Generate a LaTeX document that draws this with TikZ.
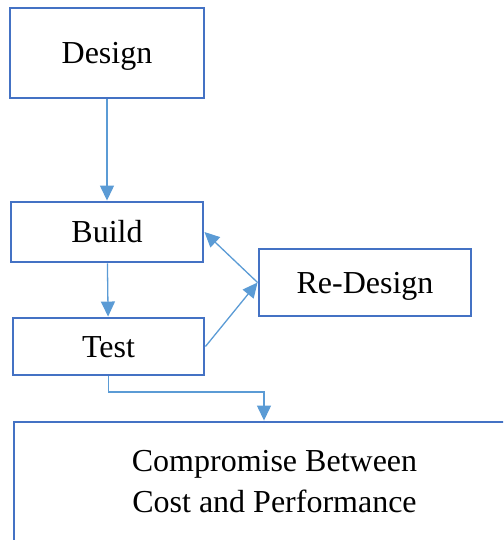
\documentclass[tikz,border=0pt]{standalone}
\usepackage{fontspec}
\setmainfont{Liberation Serif}
\usetikzlibrary{arrows.meta}

\definecolor{boxblue}{HTML}{4472C4}
\definecolor{lineblue}{HTML}{5B9BD5}

\begin{document}
\begin{tikzpicture}[x=1pt,y=-1pt]

        \useasboundingbox (0,0) rectangle (503,540);
        \clip (0,0) rectangle (503,540);

        \begin{scope}[every node/.style={draw=boxblue, line width=2.9pt, fill=white, inner sep=0pt,
            font=\fontsize{32}{41}\selectfont, text height=21.5pt, text depth=0pt}]
          \node[minimum width=194pt, minimum height=90pt] (1) at (107,53)    {Design};
          \node[minimum width=192pt, minimum height=60pt] (2) at (107,232)   {Build};
          \node[minimum width=191pt, minimum height=57pt] (3) at (108.5,346.5) {Test};
          \node[minimum width=212pt, minimum height=67pt] (4) at (365,282.5) {Re-Design};
          \node[minimum width=521pt, minimum height=120pt, align=center,
                text height=, text depth=] (5) at (274.5,482)
                {Compromise Between\\Cost and Performance};
        \end{scope}

        \coordinate (k) at (264,392);

        \begin{scope}[every edge/.style={draw=lineblue, line width=1.3pt,
            -{Triangle[length=15pt,width=14pt]}}]
          \path (1) edge (2);
          \path (2) edge (3);
          \path (4.west) edge (2.east);
          \path (3.east) edge (4.west);
          \path (3.south) edge[to path={|- (k) -- (k |- \tikztotarget.north)}] (5);
        \end{scope}

      \end{tikzpicture}
\end{document}
